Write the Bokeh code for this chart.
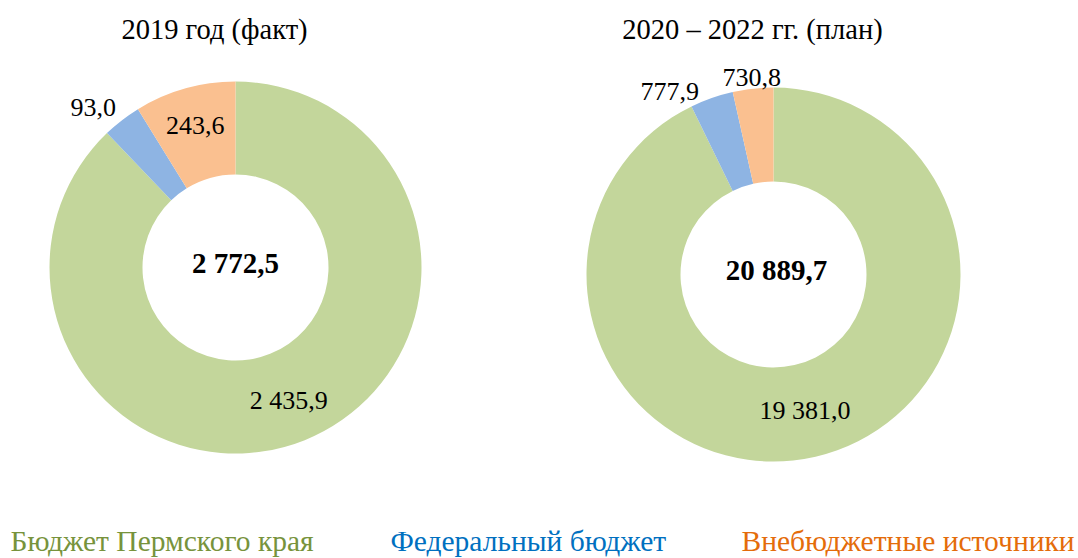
import math
from bokeh.plotting import figure
from bokeh.models import Range1d
from bokeh.core.properties import value
from bokeh.embed import file_html
from bokeh.resources import INLINE

# ---- data ----
categories = ["Бюджет Пермского края", "Федеральный бюджет", "Внебюджетные источники"]
values_2019 = [2435.9, 93.0, 243.6]
values_2022 = [19381.0, 777.9, 730.8]
titles = ["2019 год (факт)", "2020 – 2022 гг. (план)"]

# ---- styles ----
W, H = 1078, 558
colors = ["#c3d69b", "#8eb4e3", "#fac090"]
legend_colors = ["#77933c", "#0070c0", "#e46c0a"]
FONT = "Liberation Serif"


def fmt(v):
    s = f"{v:,.1f}"
    return s.replace(",", " ").replace(".", ",")


p = figure(width=W, height=H, x_range=Range1d(0, W), y_range=Range1d(0, H),
           x_axis_type=None, y_axis_type=None, toolbar_location=None,
           output_backend="svg", min_border=0)
p.grid.visible = False
p.outline_line_color = None
p.background_fill_color = "white"
p.border_fill_color = "white"

charts = [
    dict(vals=values_2019, cx=235, cy=H - 267, r_out=186, r_in=93,
         label_r=[143, 214, 148], label_da=[0, 4, 0], title_dx=-21, center_dx=0),
    dict(vals=values_2022, cx=773, cy=H - 274, r_out=187, r_in=93,
         label_r=[140, 210, 198], label_da=[0, 10.3, 0], title_dx=-21, center_dx=3),
]

for ch, title in zip(charts, titles):
    vals = ch["vals"]
    total = sum(vals)
    cum = 0.0
    starts, ends, lx, ly, labels = [], [], [], [], []
    for i, v in enumerate(vals):
        c0 = cum / total
        c1 = (cum + v) / total
        cum += v
        a_start = math.pi / 2 - 2 * math.pi * c1
        a_end = math.pi / 2 - 2 * math.pi * c0
        starts.append(a_start)
        ends.append(a_end)
        mid = (a_start + a_end) / 2 + math.radians(ch["label_da"][i])
        lx.append(ch["cx"] + ch["label_r"][i] * math.cos(mid))
        ly.append(ch["cy"] + ch["label_r"][i] * math.sin(mid))
        labels.append(fmt(v))
    p.annular_wedge(x=[ch["cx"]] * 3, y=[ch["cy"]] * 3,
                    inner_radius=ch["r_in"], outer_radius=ch["r_out"],
                    start_angle=starts, end_angle=ends, direction="anticlock",
                    fill_color=colors, line_color=None)
    p.text(x=lx, y=ly, text=labels, text_font=value(FONT), text_font_size="26px",
           text_align="center", text_baseline="middle", text_color="black")
    p.text(x=[ch["cx"] + ch["center_dx"]], y=[ch["cy"] + 5], text=[fmt(total)],
           text_font=value(FONT), text_font_size="29px", text_font_style="bold",
           text_align="center", text_baseline="middle", text_color="black")
    p.text(x=[ch["cx"] + ch["title_dx"]], y=[H - 29], text=[title], text_font=value(FONT),
           text_font_size="28.5px", text_align="center", text_baseline="middle",
           text_color="black")

legend_x = [10, 390, 741]
p.text(x=legend_x, y=[H - 540] * 3, text=categories, text_font=value(FONT),
       text_font_size="29.5px", text_align="left", text_baseline="middle",
       text_color=legend_colors)

open("out.html", "w").write(file_html(p, INLINE))
